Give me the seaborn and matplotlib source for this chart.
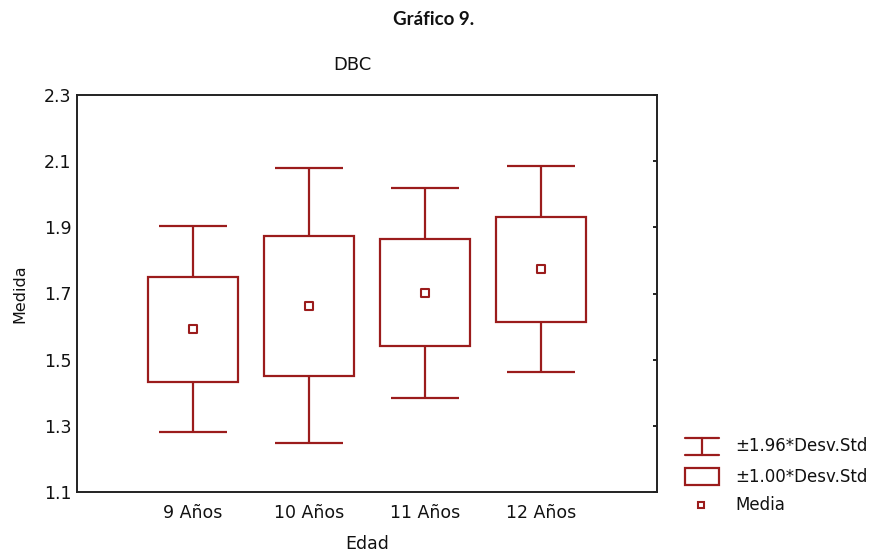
import matplotlib
matplotlib.use("Agg")
import matplotlib.pyplot as plt
import seaborn as sns
import pandas as pd
from matplotlib.patches import Rectangle

# Data (DBC by age)
edades = ["9 Años", "10 Años", "11 Años", "12 Años"]
medias = [1.592, 1.663, 1.702, 1.773]
desv = [0.159, 0.212, 0.162, 0.159]

color = "#9B1C1C"
df = pd.DataFrame({"Edad": edades, "Media": medias, "SD": desv})
df["box_lo"] = df["Media"] - 1.00 * df["SD"]
df["box_hi"] = df["Media"] + 1.00 * df["SD"]
df["wh_lo"] = df["Media"] - 1.96 * df["SD"]
df["wh_hi"] = df["Media"] + 1.96 * df["SD"]

sns.set_style("white")
plt.rcParams["font.family"] = ["DejaVu Sans"]

fig = plt.figure(figsize=(8.73, 5.57), dpi=100)
ax = fig.add_axes([77 / 873, 1 - 492 / 557, 580 / 873, 397 / 557])

lw = 1.6
x = list(range(len(edades)))
# boxes (+-1 SD)
ax.bar(x, df["box_hi"] - df["box_lo"], bottom=df["box_lo"], width=0.78,
       fill=False, edgecolor=color, linewidth=lw, zorder=2)
# whiskers (+-1.96 SD)
ax.vlines(x, df["box_hi"], df["wh_hi"], color=color, linewidth=lw)
ax.vlines(x, df["wh_lo"], df["box_lo"], color=color, linewidth=lw)
ax.hlines(df["wh_hi"], [i - 0.295 for i in x], [i + 0.295 for i in x], color=color, linewidth=lw)
ax.hlines(df["wh_lo"], [i - 0.295 for i in x], [i + 0.295 for i in x], color=color, linewidth=lw)
# means
sns.scatterplot(data=df, x="Edad", y="Media", marker="s", s=28, facecolor="white",
                edgecolor=color, linewidth=1.5, ax=ax, zorder=3)

ax.set_xlim(-1, 4)
ax.set_ylim(1.1, 2.3)
ax.set_yticks([1.1, 1.3, 1.5, 1.7, 1.9, 2.1, 2.3])
ax.set_yticklabels(["1.1", "1.3", "1.5", "1.7", "1.9", "2.1", "2.3"])
ax.set_xticks(x)
ax.set_xticklabels(edades)
ax.tick_params(axis="both", direction="in", length=3, width=1.2, labelsize=12.5,
               top=False, right=True, color="black", labelcolor="#111111", pad=4)
ax.tick_params(axis="x", pad=9)
for s in ax.spines.values():
    s.set_visible(True)
    s.set_color("#222222")
    s.set_linewidth(1.4)

ax.set_xlabel("Edad", fontsize=12.5, labelpad=9, color="#111111")
ax.set_ylabel("Medida", fontsize=11.5, labelpad=12, color="#111111")
ax.set_title("DBC", fontsize=13, pad=18, x=0.475, color="#111111")

fig.text(0.497, 0.965, "Gráfico 9.", fontsize=13.5, fontweight="bold",
         family=["Lato", "DejaVu Sans"], ha="center", va="center", color="#111111")

# legend drawn by hand at the lower right
lg = fig.add_axes([0, 0, 1, 1], facecolor="none")
lg.set_xlim(0, 873)
lg.set_ylim(557, 0)
lg.axis("off")
lg.plot([702, 702], [438, 455], color=color, lw=lw)
lg.plot([685, 719], [438, 438], color=color, lw=lw)
lg.plot([685, 719], [455, 455], color=color, lw=lw)
lg.add_patch(Rectangle((685, 468), 34, 17, fill=False, edgecolor=color, lw=lw))
lg.add_patch(Rectangle((698, 502), 6, 6, facecolor="white", edgecolor=color, lw=1.5))
for yy, t in zip([446, 477, 505], ["±1.96*Desv.Std", "±1.00*Desv.Std", "Media"]):
    lg.text(735, yy, t, fontsize=12, ha="left", va="center", color="#111111")

fig.savefig("out.png", dpi=100)
